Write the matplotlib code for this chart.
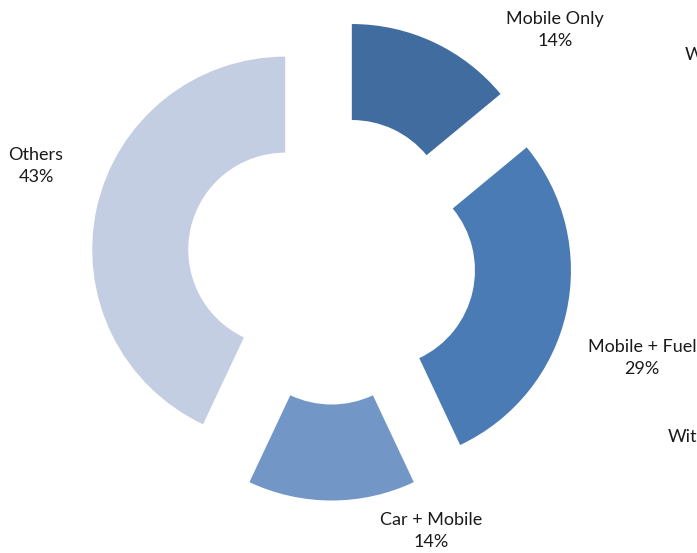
import matplotlib
matplotlib.use("Agg")
import matplotlib.pyplot as plt

categories = ["Mobile Only", "Mobile + Fuel", "Car + Mobile", "Others"]
values = [14, 29, 14, 43]
colors = ["#416C9F", "#4A7BB4", "#7296C6", "#C3CEE3"]

plt.rcParams['font.family'] = ['Lato', 'DejaVu Sans']

W, H = 697, 553
fig = plt.figure(figsize=(W / 100, H / 100), dpi=100)
ax = fig.add_axes([0, 0, 1, 1])

cx, cy = 331.6, H - 260
R, ring = 193, 96
offset = 47.5

ax.pie(values, colors=colors, startangle=90, counterclock=False,
       radius=R, center=(cx, cy), explode=[offset] * len(values),
       wedgeprops=dict(width=ring, linewidth=0))

label_pos = [(555, 30), (642, 358), (431, 531), (36, 166)]
for cat, v, (lx, ly) in zip(categories, values, label_pos):
    ax.text(lx, H - ly, f"{cat}\n{v}%", ha="center", va="center",
            fontsize=13, color="#1a1a1a", linespacing=1.4)

# cut-off legend text at right edge (as in the reference)
ax.text(685, H - 55, "W", ha="left", va="center", fontsize=13, color="#1a1a1a")
ax.text(668, H - 437, "With", ha="left", va="center", fontsize=13, color="#1a1a1a")

ax.set_xlim(0, W)
ax.set_ylim(0, H)
ax.set_aspect("equal")
ax.axis("off")

fig.savefig("out.png", dpi=100, facecolor="white")
